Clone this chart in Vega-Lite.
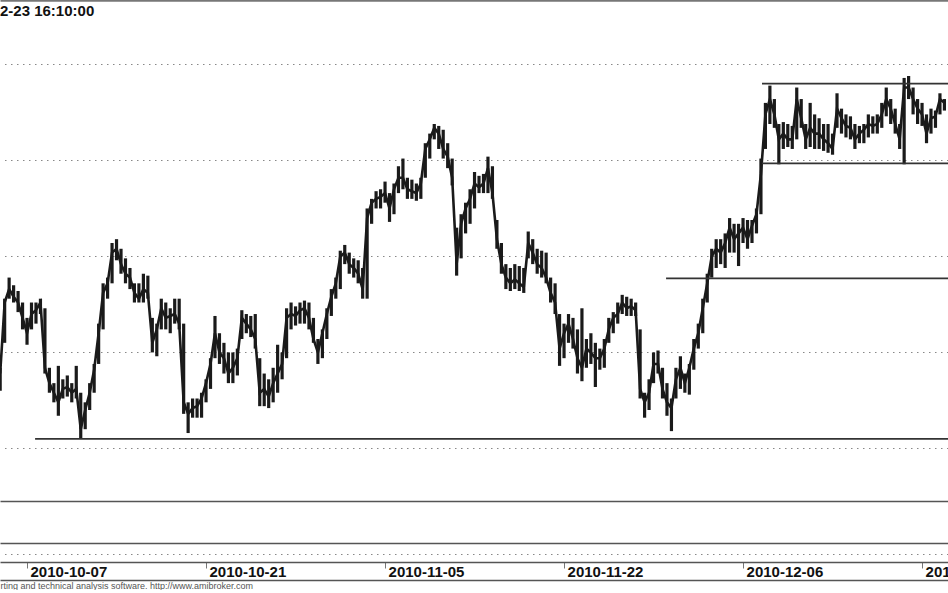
{
"$schema": "https://vega.github.io/schema/vega-lite/v6.json",
"padding": 0,
"spacing": 0,
"bounds": "flush",
"background": "white",
"config": {"view": {"stroke": null}, "font": "Liberation Sans"},
"datasets": {
"bars": [
{"t":-1.5,"h":2642,"l":2630,"c":2639},{"t":-1.25,"h":2678,"l":2655,"c":2676},{"t":-1,"h":2689,"l":2678,"c":2683},{"t":-0.75,"h":2685,"l":2676,"c":2679},{"t":-0.5,"h":2682,"l":2671,"c":2676},{"t":-0.25,"h":2676,"l":2662,"c":2668},
{"t":0,"h":2668,"l":2654,"c":2660},{"t":0.25,"h":2676,"l":2662,"c":2670},{"t":0.5,"h":2676,"l":2665,"c":2672},{"t":0.75,"h":2678,"l":2670,"c":2676},{"t":1,"h":2673,"l":2639,"c":2642},{"t":1.25,"h":2642,"l":2629,"c":2634},{"t":1.5,"h":2634,"l":2624,"c":2629},{"t":1.75,"h":2643,"l":2617,"c":2624},
{"t":2,"h":2636,"l":2626,"c":2631},{"t":2.25,"h":2638,"l":2627,"c":2632},{"t":2.5,"h":2634,"l":2624,"c":2629},{"t":2.75,"h":2643,"l":2626,"c":2631},{"t":3,"h":2629,"l":2605,"c":2610},{"t":3.25,"h":2624,"l":2610,"c":2620},{"t":3.5,"h":2634,"l":2620,"c":2629},{"t":3.75,"h":2644,"l":2629,"c":2641},
{"t":4,"h":2665,"l":2644,"c":2660},{"t":4.25,"h":2686,"l":2662,"c":2681},{"t":4.5,"h":2689,"l":2678,"c":2686},{"t":4.75,"h":2707,"l":2686,"c":2702},{"t":5,"h":2709,"l":2698,"c":2704},{"t":5.25,"h":2704,"l":2691,"c":2696},{"t":5.5,"h":2699,"l":2686,"c":2691},{"t":5.75,"h":2694,"l":2683,"c":2689},
{"t":6,"h":2686,"l":2676,"c":2681},{"t":6.25,"h":2686,"l":2676,"c":2678},{"t":6.5,"h":2691,"l":2676,"c":2683},{"t":6.75,"h":2690,"l":2678,"c":2681},{"t":7,"h":2668,"l":2650,"c":2655},{"t":7.25,"h":2665,"l":2648,"c":2662},{"t":7.5,"h":2678,"l":2662,"c":2673},{"t":7.75,"h":2676,"l":2662,"c":2668},
{"t":8,"h":2673,"l":2660,"c":2669},{"t":8.25,"h":2678,"l":2665,"c":2670},{"t":8.5,"h":2678,"l":2662,"c":2665},{"t":8.75,"h":2665,"l":2618,"c":2624},{"t":9,"h":2624,"l":2608,"c":2618},{"t":9.25,"h":2626,"l":2616,"c":2621},{"t":9.5,"h":2626,"l":2616,"c":2622},{"t":9.75,"h":2629,"l":2616,"c":2626},
{"t":10,"h":2636,"l":2624,"c":2634},{"t":10.25,"h":2647,"l":2631,"c":2644},{"t":10.5,"h":2669,"l":2647,"c":2660},{"t":10.75,"h":2660,"l":2644,"c":2650},{"t":11,"h":2655,"l":2639,"c":2647},{"t":11.25,"h":2650,"l":2634,"c":2639},{"t":11.5,"h":2650,"l":2634,"c":2642},{"t":11.75,"h":2652,"l":2638,"c":2647},
{"t":12,"h":2672,"l":2657,"c":2668},{"t":12.25,"h":2670,"l":2660,"c":2665},{"t":12.5,"h":2669,"l":2658,"c":2662},{"t":12.75,"h":2670,"l":2652,"c":2657},{"t":13,"h":2647,"l":2622,"c":2629},{"t":13.25,"h":2639,"l":2622,"c":2631},{"t":13.5,"h":2636,"l":2621,"c":2627},{"t":13.75,"h":2642,"l":2624,"c":2634},
{"t":14,"h":2654,"l":2629,"c":2639},{"t":14.25,"h":2650,"l":2636,"c":2644},{"t":14.5,"h":2673,"l":2647,"c":2668},{"t":14.75,"h":2676,"l":2662,"c":2670},{"t":15,"h":2674,"l":2664,"c":2669},{"t":15.25,"h":2676,"l":2665,"c":2672},{"t":15.5,"h":2677,"l":2665,"c":2673},{"t":15.75,"h":2676,"l":2662,"c":2668},
{"t":16,"h":2668,"l":2655,"c":2657},{"t":16.25,"h":2657,"l":2644,"c":2650},{"t":16.5,"h":2662,"l":2647,"c":2660},{"t":16.75,"h":2673,"l":2657,"c":2670},{"t":17,"h":2683,"l":2669,"c":2679},{"t":17.25,"h":2689,"l":2678,"c":2686},{"t":17.5,"h":2703,"l":2683,"c":2700},{"t":17.75,"h":2706,"l":2696,"c":2702},
{"t":18,"h":2702,"l":2691,"c":2696},{"t":18.25,"h":2699,"l":2689,"c":2694},{"t":18.5,"h":2698,"l":2686,"c":2691},{"t":18.75,"h":2694,"l":2678,"c":2683},{"t":19,"h":2725,"l":2678,"c":2720},{"t":19.25,"h":2730,"l":2717,"c":2728},{"t":19.5,"h":2734,"l":2725,"c":2730},{"t":19.75,"h":2735,"l":2725,"c":2731},
{"t":20,"h":2739,"l":2728,"c":2733},{"t":20.25,"h":2733,"l":2718,"c":2725},{"t":20.5,"h":2738,"l":2722,"c":2735},{"t":20.75,"h":2747,"l":2733,"c":2741},{"t":21,"h":2751,"l":2735,"c":2741},{"t":21.25,"h":2741,"l":2730,"c":2735},{"t":21.5,"h":2740,"l":2730,"c":2734},{"t":21.75,"h":2738,"l":2729,"c":2733},
{"t":22,"h":2741,"l":2730,"c":2738},{"t":22.25,"h":2759,"l":2741,"c":2756},{"t":22.5,"h":2764,"l":2751,"c":2761},{"t":22.75,"h":2769,"l":2761,"c":2767},{"t":23,"h":2768,"l":2756,"c":2764},{"t":23.25,"h":2766,"l":2751,"c":2756},{"t":23.5,"h":2759,"l":2746,"c":2752},{"t":23.75,"h":2751,"l":2737,"c":2741},
{"t":24,"h":2715,"l":2690,"c":2696},{"t":24.25,"h":2722,"l":2699,"c":2717},{"t":24.5,"h":2728,"l":2712,"c":2725},{"t":24.75,"h":2735,"l":2717,"c":2730},{"t":25,"h":2744,"l":2725,"c":2738},{"t":25.25,"h":2742,"l":2733,"c":2736},{"t":25.5,"h":2743,"l":2733,"c":2738},{"t":25.75,"h":2752,"l":2733,"c":2746},
{"t":26,"h":2747,"l":2730,"c":2733},{"t":26.25,"h":2719,"l":2704,"c":2709},{"t":26.5,"h":2707,"l":2691,"c":2696},{"t":26.75,"h":2696,"l":2683,"c":2689},{"t":27,"h":2694,"l":2682,"c":2686},{"t":27.25,"h":2696,"l":2683,"c":2688},{"t":27.5,"h":2695,"l":2682,"c":2686},{"t":27.75,"h":2694,"l":2681,"c":2684},
{"t":28,"h":2713,"l":2699,"c":2707},{"t":28.25,"h":2709,"l":2696,"c":2702},{"t":28.5,"h":2704,"l":2691,"c":2696},{"t":28.75,"h":2703,"l":2689,"c":2694},{"t":29,"h":2702,"l":2686,"c":2689},{"t":29.25,"h":2689,"l":2676,"c":2681},{"t":29.5,"h":2686,"l":2670,"c":2676},{"t":29.75,"h":2670,"l":2643,"c":2652},
{"t":30,"h":2665,"l":2647,"c":2660},{"t":30.25,"h":2670,"l":2655,"c":2665},{"t":30.5,"h":2668,"l":2652,"c":2657},{"t":30.75,"h":2662,"l":2639,"c":2647},{"t":31,"h":2673,"l":2635,"c":2642},{"t":31.25,"h":2657,"l":2642,"c":2652},{"t":31.5,"h":2660,"l":2644,"c":2650},{"t":31.75,"h":2655,"l":2632,"c":2647},
{"t":32,"h":2652,"l":2641,"c":2647},{"t":32.25,"h":2657,"l":2642,"c":2652},{"t":32.5,"h":2668,"l":2655,"c":2662},{"t":32.75,"h":2671,"l":2660,"c":2668},{"t":33,"h":2676,"l":2665,"c":2670},{"t":33.25,"h":2680,"l":2670,"c":2676},{"t":33.5,"h":2679,"l":2669,"c":2673},{"t":33.75,"h":2678,"l":2669,"c":2674},
{"t":34,"h":2676,"l":2669,"c":2672},{"t":34.25,"h":2662,"l":2626,"c":2631},{"t":34.5,"h":2629,"l":2616,"c":2624},{"t":34.75,"h":2636,"l":2620,"c":2629},{"t":35,"h":2650,"l":2634,"c":2644},{"t":35.25,"h":2651,"l":2639,"c":2644},{"t":35.5,"h":2642,"l":2626,"c":2631},{"t":35.75,"h":2634,"l":2617,"c":2624},
{"t":36,"h":2626,"l":2609,"c":2621},{"t":36.25,"h":2642,"l":2626,"c":2636},{"t":36.5,"h":2648,"l":2631,"c":2642},{"t":36.75,"h":2639,"l":2629,"c":2634},{"t":37,"h":2644,"l":2628,"c":2642},{"t":37.25,"h":2657,"l":2641,"c":2652},{"t":37.5,"h":2665,"l":2652,"c":2660},{"t":37.75,"h":2678,"l":2660,"c":2673},
{"t":38,"h":2691,"l":2676,"c":2686},{"t":38.25,"h":2704,"l":2689,"c":2700},{"t":38.5,"h":2709,"l":2694,"c":2704},{"t":38.75,"h":2709,"l":2696,"c":2702},{"t":39,"h":2712,"l":2694,"c":2707},{"t":39.25,"h":2720,"l":2702,"c":2715},{"t":39.5,"h":2717,"l":2702,"c":2709},{"t":39.75,"h":2717,"l":2695,"c":2712},
{"t":40,"h":2720,"l":2707,"c":2715},{"t":40.25,"h":2719,"l":2704,"c":2709},{"t":40.5,"h":2719,"l":2707,"c":2716},{"t":40.75,"h":2725,"l":2712,"c":2722},{"t":41,"h":2751,"l":2722,"c":2743},{"t":41.25,"h":2780,"l":2756,"c":2774},{"t":41.5,"h":2789,"l":2769,"c":2782},{"t":41.75,"h":2782,"l":2767,"c":2774},
{"t":42,"h":2769,"l":2748,"c":2761},{"t":42.25,"h":2770,"l":2756,"c":2764},{"t":42.5,"h":2769,"l":2757,"c":2761},{"t":42.75,"h":2768,"l":2756,"c":2761},{"t":43,"h":2788,"l":2761,"c":2782},{"t":43.25,"h":2782,"l":2767,"c":2772},{"t":43.5,"h":2769,"l":2756,"c":2761},{"t":43.75,"h":2780,"l":2757,"c":2767},
{"t":44,"h":2774,"l":2756,"c":2764},{"t":44.25,"h":2772,"l":2756,"c":2764},{"t":44.5,"h":2769,"l":2755,"c":2761},{"t":44.75,"h":2769,"l":2754,"c":2759},{"t":45,"h":2764,"l":2753,"c":2756},{"t":45.25,"h":2785,"l":2767,"c":2777},{"t":45.5,"h":2777,"l":2764,"c":2772},{"t":45.75,"h":2774,"l":2762,"c":2768},
{"t":46,"h":2773,"l":2761,"c":2767},{"t":46.25,"h":2769,"l":2756,"c":2761},{"t":46.5,"h":2768,"l":2759,"c":2764},{"t":46.75,"h":2769,"l":2759,"c":2766},{"t":47,"h":2774,"l":2762,"c":2769},{"t":47.25,"h":2773,"l":2764,"c":2768},{"t":47.5,"h":2774,"l":2764,"c":2769},{"t":47.75,"h":2780,"l":2767,"c":2774},
{"t":48,"h":2788,"l":2773,"c":2782},{"t":48.25,"h":2782,"l":2769,"c":2777},{"t":48.5,"h":2777,"l":2764,"c":2769},{"t":48.75,"h":2769,"l":2756,"c":2761},{"t":49,"h":2793,"l":2748,"c":2788},{"t":49.25,"h":2794,"l":2782,"c":2788},{"t":49.5,"h":2788,"l":2774,"c":2782},{"t":49.75,"h":2782,"l":2769,"c":2777},
{"t":50,"h":2780,"l":2768,"c":2774},{"t":50.25,"h":2774,"l":2759,"c":2764},{"t":50.5,"h":2777,"l":2764,"c":2772},{"t":50.75,"h":2776,"l":2767,"c":2773},{"t":51,"h":2785,"l":2774,"c":2782},{"t":51.25,"h":2782,"l":2776,"c":2780}
],
"levels": [
{"t1":0.45,"t2":52,"level":2605},
{"t1":35.7,"t2":52,"level":2688.6},
{"t1":41.06,"t2":52,"level":2790},
{"t1":41.06,"t2":52,"level":2748.5}
]
},
"vconcat": [
{
"width": 948,
"height": 501,
"title": {"text": "2-23 16:10:00", "anchor": "start", "frame": "group", "offset": -19, "fontSize": 15, "fontWeight": "bold", "font": "Liberation Sans", "color": "#111"},
"data": {"name": "bars"},
"layer": [
{
"mark": {"type": "rule", "strokeWidth": 3.2, "color": "#1a1a1a", "clip": true},
"encoding": {
"x": {"field": "t", "type": "quantitative", "scale": {"domain": [-1.51, 51.45], "nice": false, "zero": false},
"axis": {"orient": "bottom", "domain": true, "domainColor": "#555", "domainWidth": 1.6, "ticks": false, "labels": false, "grid": false, "title": null}},
"y": {"field": "h", "type": "quantitative", "scale": {"domain": [2572.6, 2833.6], "nice": false, "zero": false},
"axis": {"orient": "right", "grid": true, "values": [2600, 2650, 2700, 2750, 2800], "labels": false, "ticks": false, "domain": false, "title": null, "gridDash": [1.5, 4.5], "gridColor": "#888", "gridWidth": 1}},
"y2": {"field": "l"}
}
},
{
"mark": {"type": "line", "strokeWidth": 2.6, "color": "#1a1a1a", "clip": true},
"encoding": {
"x": {"field": "t", "type": "quantitative",
"axis": {"orient": "top", "domain": true, "domainColor": "#777", "domainWidth": 2.5, "ticks": false, "labels": false, "grid": false, "title": null}},
"y": {"field": "c", "type": "quantitative"}
}
},
{
"data": {"name": "levels"},
"mark": {"type": "rule", "strokeWidth": 1.7, "color": "#333", "clip": true},
"encoding": {
"x": {"field": "t1", "type": "quantitative", "axis": null},
"x2": {"field": "t2"},
"y": {"field": "level", "type": "quantitative"}
}
}
],
"resolve": {"axis": {"x": "independent"}}
},
{
"width": 948,
"height": 42,
"data": {"values": []},
"mark": "point",
"encoding": {
"x": {"field": "t", "type": "quantitative", "scale": {"domain": [-1.51, 51.45], "nice": false, "zero": false},
"axis": {"orient": "bottom", "domain": true, "domainColor": "#555", "domainWidth": 1.6, "ticks": false, "labels": false, "grid": false, "title": null}}
}
},
{
"width": 948,
"height": 19,
"data": {"values": []},
"mark": "point",
"encoding": {
"x": {"field": "t", "type": "quantitative", "scale": {"domain": [-1.51, 51.45], "nice": false, "zero": false},
"axis": {"orient": "bottom", "values": [0, 10, 20, 30, 40, 50],
"labelExpr": "['2010-10-07','2010-10-21','2010-11-05','2010-11-22','2010-12-06','2010-12-20'][round(datum.value/10)]",
"domain": true, "domainColor": "#555", "domainWidth": 1.6, "ticks": true, "tickSize": 6, "tickColor": "#777", "tickWidth": 1,
"labelAlign": "left", "labelBaseline": "top", "labelOffset": 3, "labelPadding": -4, "labelFont": "Liberation Sans", "labelFontSize": 15, "labelFontWeight": "bold", "labelColor": "#111",
"labelOverlap": false, "labelFlush": false, "grid": false, "title": null}},
"y": {"field": "v", "type": "quantitative", "scale": {"domain": [0, 100]},
"axis": {"orient": "right", "values": [40], "grid": true, "labels": false, "ticks": false, "domain": false, "title": null, "gridDash": [1.5, 4.5], "gridColor": "#888", "gridWidth": 1}}
}
},
{
"width": 948,
"height": 18,
"data": {"values": []},
"mark": "point",
"encoding": {
"x": {"field": "t", "type": "quantitative", "scale": {"domain": [-1.51, 51.45], "nice": false, "zero": false},
"axis": {"orient": "bottom", "domain": true, "domainColor": "#555", "domainWidth": 1.6, "ticks": false, "labels": false, "grid": false,
"title": "rting and technical analysis software. http://www.amibroker.com", "titleAnchor": "start", "titleAlign": "left", "titleFontSize": 9, "titleFont": "Liberation Sans", "titleFontWeight": "normal", "titleColor": "#555", "titlePadding": 1}}
}
}
]
}
